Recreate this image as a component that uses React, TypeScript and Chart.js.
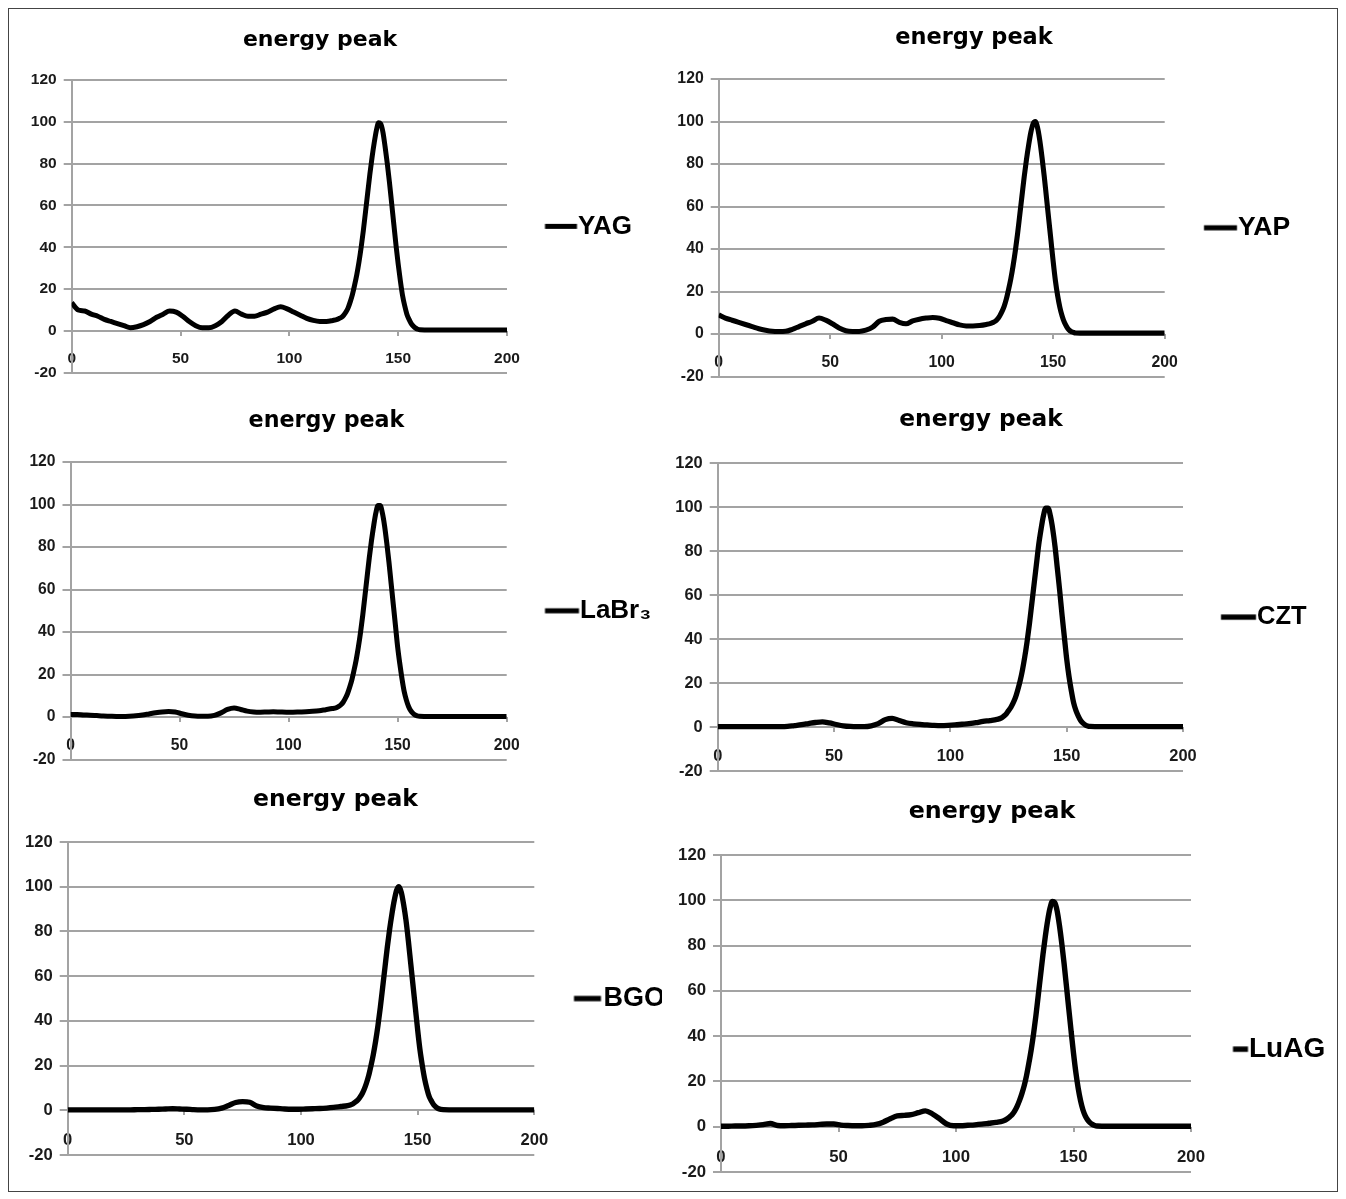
import React, { useEffect, useRef } from 'react';
import { Chart, registerables } from 'chart.js';

Chart.register(...registerables);

// ---------- data ----------
const X_VALUES = [
  0, 3, 6, 9, 12, 15, 18, 21, 24, 27, 30, 33, 36, 39, 42, 45, 48, 51, 54, 57, 60,
  63, 66, 69, 72, 75, 78, 81, 84, 87, 90, 93, 96, 99, 102, 105, 108, 111, 114, 117, 120,
  122, 123, 124, 125, 126, 127, 128, 129, 130, 131, 132, 133, 134, 135, 136, 137, 138, 139,
  140, 141, 142, 143, 144, 145, 146, 147, 148, 149, 150, 151, 152, 153, 154, 155, 156, 157,
  158, 159, 160,
  165, 170, 175, 180, 185, 190, 195, 200,
];

const YAG_VALUES = [
  13.5, 10, 9.5, 8, 7, 5.5, 4.5, 3.5, 2.5, 1.5, 2, 3, 4.5, 6.5, 8, 9.5, 9, 7, 4.5, 2.5, 1.5,
  1.5, 2.5, 4.5, 7.5, 9.5, 8, 7, 7, 8, 9, 10.5, 11.5, 10.5, 9, 7.5, 6, 5, 4.5, 4.5, 5,
  5.5, 6, 6.5, 7.5, 9, 11, 14, 17.5, 22, 27, 33, 40, 48, 57, 66, 75, 83, 90,
  96, 99.5, 99, 95, 88, 80, 71, 61, 51, 41, 32, 24, 17, 12, 8, 5.5, 3.5, 2.2,
  1.3, 0.8, 0.5,
  0.4, 0.4, 0.4, 0.4, 0.4, 0.4, 0.4, 0.4,
];

const YAP_VALUES = [
  9, 7.5, 6.5, 5.5, 4.5, 3.5, 2.5, 1.8, 1.3, 1.2, 1.3, 2.2, 3.5, 4.8, 6, 7.5, 6.5, 4.8, 2.8, 1.5, 1.2,
  1.2, 1.8, 3.2, 6, 6.8, 7, 5.5, 4.8, 6.2, 7, 7.5, 7.8, 7.4, 6.3, 5.3, 4.3, 3.8, 3.8, 4, 4.5,
  5, 5.5, 6, 7, 8.5, 10.5, 13, 16.5, 21, 26, 32, 39, 47, 56, 65, 74, 82, 89,
  95, 99, 100, 97, 91, 83, 74, 64, 54, 44, 34, 25, 18, 12.5, 8.5, 5.5, 3.5, 2,
  1.2, 0.8, 0.5,
  0.4, 0.4, 0.4, 0.4, 0.4, 0.4, 0.4, 0.4,
];

const LABR3_VALUES = [
  1.2, 1.2, 1, 0.9, 0.7, 0.5, 0.4, 0.3, 0.3, 0.4, 0.6, 1, 1.5, 2, 2.4, 2.6, 2.4, 1.6, 0.9, 0.5, 0.4,
  0.4, 0.8, 2, 3.6, 4.3, 3.6, 2.8, 2.4, 2.3, 2.4, 2.5, 2.4, 2.3, 2.3, 2.4, 2.5, 2.7, 3, 3.5, 4,
  4.5, 5, 5.8, 7, 8.8, 11, 14, 17.5, 22, 27, 33, 40, 48, 57, 66, 75, 83, 90,
  96, 99.5, 99.5, 96, 90, 82, 73, 63, 53, 43, 33, 25, 18, 12, 8, 5, 3, 1.8,
  1, 0.6, 0.4,
  0.3, 0.3, 0.3, 0.3, 0.3, 0.3, 0.3, 0.3,
];

const CZT_VALUES = [
  0.2, 0.2, 0.2, 0.2, 0.2, 0.2, 0.2, 0.2, 0.2, 0.2, 0.3, 0.7, 1.1, 1.6, 2.1, 2.4, 1.9, 1.2, 0.6, 0.3, 0.2,
  0.2, 0.6, 1.6, 3.4, 4, 3, 2, 1.5, 1.2, 1, 0.8, 0.7, 0.8, 1, 1.3, 1.6, 2, 2.6, 3, 3.5,
  4.2, 5, 6, 7.5, 9, 11, 13.5, 17, 21, 26, 32, 39, 47, 56, 65, 74, 83, 90,
  96, 99.5, 99.5, 96, 90, 82, 72, 62, 51, 41, 31, 23, 16.5, 11, 7.5, 5, 3, 1.8,
  1, 0.5, 0.3,
  0.2, 0.2, 0.2, 0.2, 0.2, 0.2, 0.2, 0.2,
];

const BGO_VALUES = [
  0.2, 0.2, 0.2, 0.2, 0.2, 0.2, 0.2, 0.2, 0.2, 0.2, 0.3, 0.3, 0.4, 0.5, 0.6, 0.7, 0.6, 0.5, 0.3, 0.2, 0.2,
  0.4, 1, 2.2, 3.5, 3.9, 3.6, 1.9, 1.2, 1, 0.8, 0.6, 0.5, 0.5, 0.6, 0.7, 0.8, 1, 1.3, 1.7, 2.1,
  2.8, 3.5, 4.3, 5.5, 7, 9.2, 12, 15.5, 20, 25, 31, 38, 46, 55, 64, 73, 81, 88,
  94, 98.5, 100, 97.5, 92, 85, 76, 66, 56, 46, 36, 27, 20, 14, 9.5, 6, 4, 2.3,
  1.3, 0.7, 0.4,
  0.2, 0.2, 0.2, 0.2, 0.2, 0.2, 0.2, 0.2,
];

const LUAG_VALUES = [
  0.2, 0.2, 0.3, 0.3, 0.4, 0.6, 0.9, 1.4, 0.5, 0.4, 0.5, 0.6, 0.7, 0.8, 1, 1.2, 1.2, 0.7, 0.5, 0.4, 0.4,
  0.6, 1, 2, 3.5, 4.8, 5, 5.3, 6.2, 7, 5.6, 3.5, 1.2, 0.4, 0.4, 0.6, 0.8, 1.1, 1.5, 1.9, 2.5,
  3.6, 4.5, 5.5, 7, 9, 11.5, 14.5, 18, 22.5, 28, 34, 41, 49, 58, 67, 76, 84, 91,
  96.5, 99.5, 99, 95.5, 89, 81, 72, 62, 52, 42, 32.5, 24, 17, 11.5, 7.5, 4.8, 3, 1.8,
  1, 0.5, 0.3,
  0.2, 0.2, 0.2, 0.2, 0.2, 0.2, 0.2, 0.2,
];

const X_TICKS = [0, 50, 100, 150, 200];
const Y_TICKS = [-20, 0, 20, 40, 60, 80, 100, 120];
const CHART_TITLE = 'energy peak';

// ---------- layout (positions in page pixels) ----------
type Panel = {
  label: string; values: number[];
  l: number; r: number; t: number; b: number;   // plot area
  tx: number; ty: number;                         // title centre
  l1: number; l2: number; t1: number; ly: number; // legend line / text
  s: number; lf: number; cr: number; clip?: number;
};

const PANELS: Panel[] = [
  { label: 'YAG', values: YAG_VALUES, l: 71.7, r: 507, t: 80, b: 377, tx: 320, ty: 40, l1: 545, l2: 577, t1: 578, ly: 227, s: 1, lf: 26, cr: 662 },
  { label: 'YAP', values: YAP_VALUES, l: 718.7, r: 1164.7, t: 79, b: 381, tx: 974, ty: 38, l1: 1204, l2: 1237, t1: 1238, ly: 230, s: 1.02, lf: 26.5, cr: 1342 },
  { label: 'LaBr₃', values: LABR3_VALUES, l: 70.5, r: 506.7, t: 462, b: 764, tx: 326.5, ty: 421, l1: 545, l2: 579, t1: 580, ly: 613, s: 1.01, lf: 26, cr: 664 },
  { label: 'CZT', values: CZT_VALUES, l: 717.7, r: 1183, t: 463, b: 776, tx: 981, ty: 420, l1: 1221, l2: 1256, t1: 1257, ly: 620, s: 1.06, lf: 25.5, cr: 1342 },
  { label: 'BGO', values: BGO_VALUES, l: 67.7, r: 534.3, t: 842, b: 1160, tx: 335.5, ty: 800, l1: 574, l2: 601, t1: 603.5, ly: 1001.5, s: 1.07, lf: 27, cr: 690, clip: 662 },
  { label: 'LuAG', values: LUAG_VALUES, l: 721, r: 1191, t: 855, b: 1177, tx: 992, ty: 812, l1: 1233, l2: 1248, t1: 1249, ly: 1051.7, s: 1.08, lf: 28, cr: 1342 },
];

const GRID_COLOR = '#a3a3a3';
const TEXT_COLOR = '#1a1a1a';
const LEGEND_FAMILY = "'Liberation Sans', Arial, sans-serif";
const TITLE_FAMILY = "'DejaVu Sans', sans-serif";

function geometry(p: Panel) {
  const m = document.createElement('canvas').getContext('2d');
  let textW = p.label.length * p.lf * 0.6;
  if (m) {
    m.font = `bold ${p.lf}px ${LEGEND_FAMILY}`;
    textW = m.measureText(p.label).width;
  }
  const bw = 1;
  const itemX = p.t1 - p.lf / 2 - bw;
  const legendPad = itemX - p.r;
  const legendW = legendPad + bw + p.lf / 2 + textW + 10;
  const B = p.r + legendW;
  const A = 2 * p.tx - B;
  const cl = Math.floor(A) - 2;
  const cr = Math.max(p.cr, Math.ceil(B) + 2);
  const titleSize = 22 * p.s;
  const LH = titleSize * 1.2;
  const rawTop = p.ty - LH / 2;
  const top = Math.floor(rawTop);
  const height = Math.ceil(p.b + 12 - top);
  return {
    bw, itemX, legendPad, B, A, cl, cr,
    width: cr - cl,
    padLeft: A - cl,
    padRight: cr - B,
    yw: p.l - A,
    titleSize, LH, top,
    titlePadTop: rawTop - top,
    titlePadBottom: p.t - rawTop - LH,
    height,
    bottomPad: top + height - p.b,
  };
}

function PanelChart({ p }: { p: Panel }) {
  const ref = useRef<HTMLCanvasElement>(null);
  const G = geometry(p);

  useEffect(() => {
    const canvas = ref.current;
    if (!canvas) return;

    const tickSize = 15.5 * p.s;
    const tickFont = { family: LEGEND_FAMILY, weight: 'bold' as const, size: tickSize };
    const xTickLen = 5;
    const xPad = 28 * p.s - xTickLen - (tickSize * 1.2) / 2;

    // legend marker image (thick short line)
    const cx = G.itemX + G.bw / 2;
    const a = p.l1 - cx;
    const bb = p.l2 - cx;
    const half = Math.ceil(Math.max(Math.abs(a), Math.abs(bb))) + 1;
    const thick = 5 * p.s;
    const img = document.createElement('canvas');
    img.width = half * 2;
    img.height = Math.ceil(thick) + 2;
    const g = img.getContext('2d');
    if (g) {
      g.fillStyle = '#000';
      g.fillRect(half + a, (img.height - thick) / 2, bb - a, thick);
    }

    const shift = 2 * (p.ly - (p.t + p.b) / 2);
    const legendTitle = shift > 2
      ? { display: true, text: '', font: { size: 10 }, padding: { top: shift - 12, bottom: 0 } }
      : { display: false };

    const chart = new Chart(canvas, {
      type: 'line',
      data: {
        datasets: [
          {
            label: p.label,
            data: X_VALUES.map((x, i) => ({ x, y: p.values[i] })),
            borderColor: '#000',
            backgroundColor: '#000',
            borderWidth: 5 * p.s,
            pointRadius: 0,
            cubicInterpolationMode: 'monotone',
            fill: false,
          },
        ],
      },
      options: {
        animation: false,
        responsive: false,
        devicePixelRatio: 1,
        events: [],
        layout: { padding: { left: G.padLeft, right: G.padRight, top: 0, bottom: G.bottomPad } },
        plugins: {
          title: {
            display: true,
            text: CHART_TITLE,
            color: '#000',
            font: { family: TITLE_FAMILY, weight: 'bold', size: G.titleSize },
            padding: { top: G.titlePadTop, bottom: G.titlePadBottom },
          },
          legend: {
            display: true,
            position: 'right',
            align: 'center',
            fullSize: false,
            title: legendTitle as any,
            labels: {
              usePointStyle: true,
              pointStyle: img as any,
              boxWidth: G.bw,
              boxHeight: p.lf,
              padding: G.legendPad,
              color: '#000',
              font: { family: LEGEND_FAMILY, weight: 'bold', size: p.lf },
            },
          },
          tooltip: { enabled: false },
        },
        scales: {
          x: {
            type: 'linear',
            min: 0,
            max: 200,
            position: { y: 0 } as any,
            afterBuildTicks: (scale: any) => {
              scale.ticks = X_TICKS.map((v) => ({ value: v }));
            },
            ticks: { font: tickFont, color: TEXT_COLOR, padding: xPad, maxRotation: 0, autoSkip: false },
            grid: { drawOnChartArea: false, drawTicks: true, tickLength: xTickLen, color: GRID_COLOR, lineWidth: 2 },
            border: { display: false },
          },
          y: {
            type: 'linear',
            min: -20,
            max: 120,
            position: 'left',
            afterBuildTicks: (scale: any) => {
              scale.ticks = Y_TICKS.map((v) => ({ value: v }));
            },
            afterFit: (scale: any) => {
              scale.width = G.yw;
            },
            ticks: { font: tickFont, color: TEXT_COLOR, padding: 7, autoSkip: false },
            grid: { color: GRID_COLOR, lineWidth: 2, tickLength: 8, drawTicks: true },
            border: { display: true, color: GRID_COLOR, width: 2 },
          },
        },
      },
    });
    return () => chart.destroy();
  }, [p]);

  const canvasEl = (
    <canvas
      ref={ref}
      width={G.width}
      height={G.height}
      style={{ position: 'absolute', left: p.clip ? 0 : G.cl, top: p.clip ? 0 : G.top, width: G.width, height: G.height }}
    />
  );

  if (p.clip) {
    return (
      <div
        style={{
          position: 'absolute',
          left: G.cl,
          top: G.top,
          width: p.clip - G.cl,
          height: G.height,
          overflow: 'hidden',
        }}
      >
        {canvasEl}
      </div>
    );
  }
  return canvasEl;
}

export default function App() {
  return (
    <div
      style={{
        position: 'absolute',
        left: 0,
        top: 0,
        width: 1346,
        height: 1199,
        overflow: 'hidden',
        background: '#fff',
      }}
    >
      <div
        style={{
          position: 'absolute',
          left: 8,
          top: 8,
          width: 1328,
          height: 1182,
          border: '1px solid #444',
        }}
      />
      {PANELS.map((p) => (
        <PanelChart key={p.label} p={p} />
      ))}
    </div>
  );
}
